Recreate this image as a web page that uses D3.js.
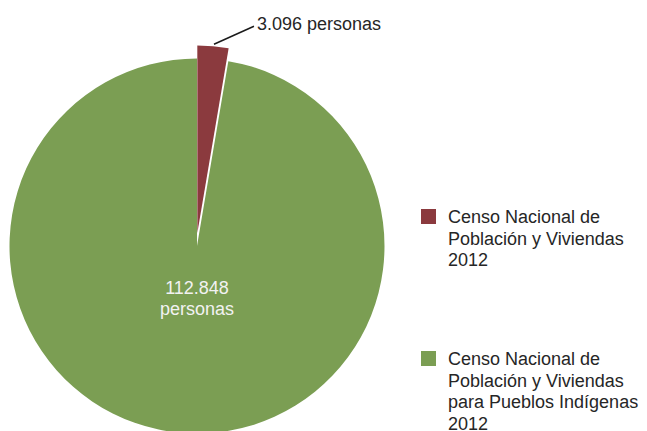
<!DOCTYPE html>
<html>
<head>
<meta charset="utf-8">
<script src="https://cdn.jsdelivr.net/npm/d3@7"></script>
<style>
  body { margin: 0; background: #fff; }
  svg text { font-family: "Liberation Sans", Arial, sans-serif; }
</style>
</head>
<body>
<div id="chart"></div>
<script>
// Data
const categories = [
    ["Censo Nacional de", "Población y Viviendas", "2012"],
    ["Censo Nacional de", "Población y Viviendas", "para Pueblos Indígenas", "2012"]
];
const values = [3096, 112848];
const valueLabels = ["3.096 personas", "112.848 personas"];
const colors = ["#8b3a3e", "#7b9e53"];

function init() {
    const w = 647;
    const h = 431;
    const cx = 197;
    const cy = 246;
    const radius = 187.5;
    const explode = 13;

    const svg = d3.select("#chart")
        .append("svg")
        .attr("width", w)
        .attr("height", h);

    const pie = d3.pie().sort(null).value(d => d);
    const arcs = pie(values);
    const arc = d3.arc().innerRadius(0).outerRadius(radius);

    const g = svg.append("g")
        .attr("transform", `translate(${cx},${cy})`);

    // slices, first one pulled out
    g.selectAll("path")
        .data(arcs)
        .enter()
        .append("path")
        .attr("d", arc)
        .attr("fill", (d, i) => colors[i])
        .attr("transform", (d, i) => {
            if (i !== 0) return null;
            const mid = (d.startAngle + d.endAngle) / 2;
            return `translate(${Math.sin(mid) * explode * 0.3},${-Math.cos(mid) * explode})`;
        });

    // label for the small slice with leader line
    const small = arcs[0];
    const mid0 = (small.startAngle + small.endAngle) / 2;
    const edgeR = radius + explode + 2;
    const x0 = Math.sin(mid0) * edgeR;
    const y0 = -Math.cos(mid0) * edgeR;
    g.append("line")
        .attr("x1", x0)
        .attr("y1", y0)
        .attr("x2", x0 + 40)
        .attr("y2", y0 - 18)
        .attr("stroke", "#1a1a1a")
        .attr("stroke-width", 1.5);
    g.append("text")
        .attr("x", x0 + 43)
        .attr("y", y0 - 14)
        .attr("font-size", "18px")
        .attr("fill", "#262626")
        .text(valueLabels[0]);

    // label inside the big slice
    const parts = valueLabels[1].split(" ");
    const big = g.append("text")
        .attr("text-anchor", "middle")
        .attr("font-size", "18px")
        .attr("fill", "#f2f2f2");
    parts.forEach((p, i) => {
        big.append("tspan")
            .attr("x", 0)
            .attr("y", 48 + i * 21)
            .text(p);
    });

    // legend
    const legendY = [209, 351];
    const legend = svg.append("g");
    categories.forEach((lines, i) => {
        legend.append("rect")
            .attr("x", 421)
            .attr("y", legendY[i])
            .attr("width", 15)
            .attr("height", 15)
            .attr("fill", colors[i]);
        const t = legend.append("text")
            .attr("font-size", "18px")
            .attr("fill", "#262626");
        lines.forEach((l, j) => {
            t.append("tspan")
                .attr("x", 448)
                .attr("y", legendY[i] + 14 + j * 21.5)
                .text(l);
        });
    });
}

window.onload = init;
</script>
</body>
</html>
